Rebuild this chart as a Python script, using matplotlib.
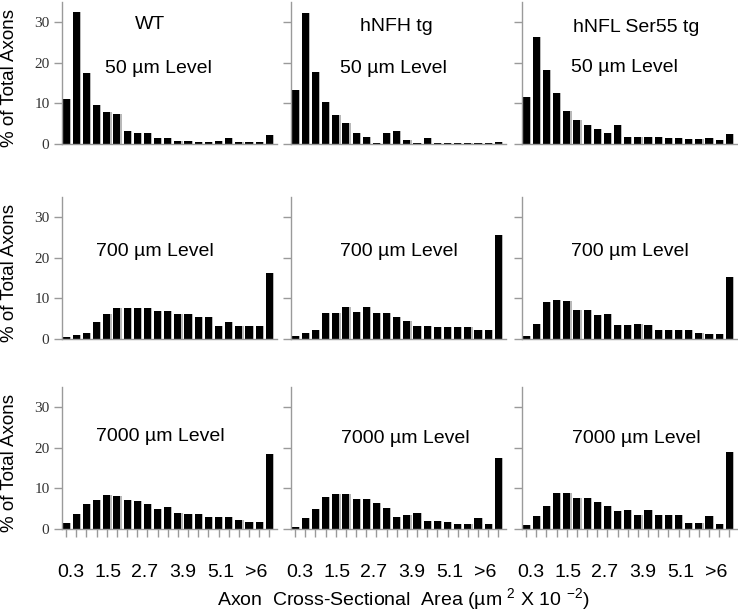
import matplotlib
matplotlib.use('Agg')
import matplotlib.pyplot as plt
import numpy as np

plt.rcParams['font.family'] = ['Liberation Sans', 'DejaVu Sans']
plt.rcParams['mathtext.fontset'] = 'custom'
plt.rcParams['mathtext.rm'] = 'Liberation Sans'

# bins: 0.3 ... 6.0, >6  (21 bins), labelled every 4th bin
n_bins = 21
tick_labels = ['0.3', '1.5', '2.7', '3.9', '5.1', '>6']
label_pos = [0.45, 4.1, 7.75, 11.5, 15.2, 18.7]   # labels sit a bit compressed vs bins

genotypes = ['WT', 'hNFH tg', 'hNFL Ser55 tg']
levels = ['50 µm Level', '700 µm Level', '7000 µm Level']

wt_50 = [11.0, 32.5, 17.6, 9.7, 7.9, 7.5, 3.1, 2.8, 2.8, 1.6, 1.6, 0.65, 0.8, 0.5, 0.5, 0.8, 1.6, 0.6, 0.6, 0.6, 2.1]
nfh_50 = [13.2, 32.3, 17.7, 10.3, 7.1, 5.1, 2.6, 1.7, 0.3, 2.6, 3.3, 1.1, 0.3, 1.4, 0.3, 0.3, 0.3, 0.15, 0.15, 0.15, 0.5]
nfl_50 = [11.6, 26.3, 18.3, 12.6, 8.1, 5.9, 4.6, 3.7, 2.6, 4.8, 1.7, 1.7, 1.7, 1.7, 1.5, 1.5, 1.2, 1.2, 1.5, 1.1, 2.4]

wt_700 = [0.4, 1.1, 1.5, 4.2, 6.1, 7.7, 7.7, 7.7, 7.7, 6.8, 7.0, 6.1, 6.1, 5.5, 5.5, 3.3, 4.2, 3.3, 3.3, 3.3, 16.2]
nfh_700 = [0.65, 1.6, 2.2, 6.3, 6.3, 7.9, 6.6, 7.9, 6.3, 6.3, 5.4, 4.4, 3.2, 3.2, 2.9, 2.9, 2.9, 2.9, 2.3, 2.3, 25.7]
nfl_700 = [0.85, 3.8, 9.0, 9.6, 9.4, 7.1, 7.1, 5.8, 6.1, 3.5, 3.5, 3.8, 3.5, 2.25, 2.25, 2.25, 2.25, 1.5, 1.25, 1.25, 15.2]

wt_7000 = [1.5, 3.6, 6.2, 7.1, 8.4, 8.1, 7.1, 6.8, 6.2, 4.9, 5.3, 4.0, 3.6, 3.6, 3.0, 3.0, 3.0, 2.3, 1.8, 1.8, 18.4]
nfh_7000 = [0.6, 2.7, 4.9, 7.8, 8.7, 8.7, 7.5, 7.5, 6.5, 5.2, 3.0, 3.4, 3.9, 2.0, 2.0, 1.8, 1.15, 1.15, 2.7, 1.2, 17.6]
nfl_7000 = [0.9, 3.1, 5.7, 8.9, 8.9, 7.6, 7.6, 6.7, 5.7, 4.5, 4.8, 3.5, 4.8, 3.5, 3.5, 3.5, 1.6, 1.6, 3.1, 1.2, 19.1]

data = [[wt_50, nfh_50, nfl_50],
        [wt_700, nfh_700, nfl_700],
        [wt_7000, nfh_7000, nfl_7000]]

W, H = 738, 613
fig = plt.figure(figsize=(W / 100, H / 100), dpi=100)

col_left = [62, 291, 522]
row_bottom = [144, 339, 529]
ax_w, ax_h = 215, 142

# text positions (axes fraction) for genotype / level labels
geno_xy = [(0.41, 0.84), (0.49, 0.825), (0.53, 0.82)]
level_xy = [[(0.45, 0.535), (0.475, 0.535), (0.475, 0.54)],
            [(0.43, 0.617), (0.50, 0.617), (0.50, 0.617)],
            [(0.455, 0.65), (0.53, 0.64), (0.53, 0.64)]]

grey = '#9a9a9a'
x = np.arange(n_bins)

for r in range(3):
    for c in range(3):
        ax = fig.add_axes([col_left[c] / W, (H - row_bottom[r]) / H, ax_w / W, ax_h / H])
        vals = data[r][c]
        ax.bar(x + 0.12, vals, width=0.7, color='#b8b8b8', zorder=1)
        ax.bar(x, vals, width=0.7, color='black', zorder=2)
        ax.set_xlim(-0.4, 20.75)
        ax.set_ylim(0, 35)
        for s in ['top', 'right']:
            ax.spines[s].set_visible(False)
        for s in ['left', 'bottom']:
            ax.spines[s].set_color(grey)
            ax.spines[s].set_linewidth(1.0)
        ax.set_yticks([0, 10, 20, 30])
        ax.tick_params(axis='y', color=grey, length=6, width=1.0, pad=3)
        if c == 0:
            ax.set_yticklabels(['0', '10', '20', '30'], family='Liberation Serif',
                               fontsize=11, color='#333333')
        else:
            ax.set_yticklabels([])
        if r == 2:
            ax.set_xticks(x, minor=True)
            ax.tick_params(axis='x', which='minor', color=grey, length=6, width=1.0)
            ax.set_xticks(label_pos)
            ax.set_xticklabels(tick_labels, fontsize=14)
            ax.tick_params(axis='x', which='major', length=0, pad=25)
        else:
            ax.set_xticks([])
        if r == 0:
            ax.text(geno_xy[c][0], geno_xy[c][1], genotypes[c], transform=ax.transAxes,
                    ha='center', va='center', fontsize=14)
        lx, ly = level_xy[r][c]
        ax.text(lx, ly, levels[r], transform=ax.transAxes, ha='center', va='center',
                fontsize=14)
    # row y label
    fig.text(10 / W, 1 - (row_bottom[r] - 66) / H, '% of Total Axons', rotation=90,
             ha='center', va='center', fontsize=13.5)

fig.text(403 / W, 1 - 600 / H, r'Axon  Cross-Sectional  Area (µm $^{2}$ X 10 $^{-2}$)',
         ha='center', va='center', fontsize=14)

fig.savefig('out.png', dpi=100)
